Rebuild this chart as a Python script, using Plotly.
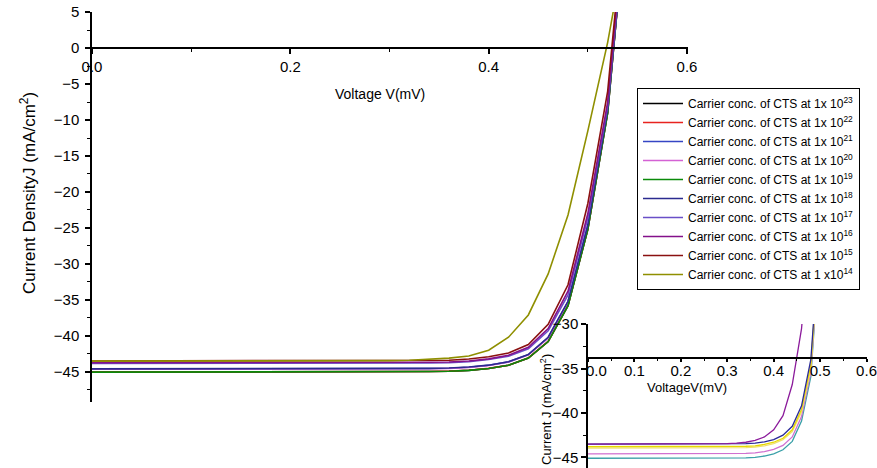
import plotly.graph_objects as go

# Voltage grid (V)
V = [0.00, 0.02, 0.04, 0.06, 0.08, 0.10, 0.12, 0.14, 0.16, 0.18, 0.20, 0.22, 0.24, 0.26,
     0.28, 0.30, 0.32, 0.34, 0.36, 0.38, 0.40, 0.42, 0.44, 0.46, 0.48, 0.50, 0.52, 0.54]

# Main chart: current density J (mA/cm^2) per carrier concentration
J_1e23 = [-45.05, -45.05, -45.05, -45.05, -45.05, -45.05, -45.05, -45.05, -45.05, -45.05, -45.05, -45.05, -45.05, -45.05,
          -45.05, -45.03, -45.0, -44.97, -44.93, -44.8, -44.55, -44.1, -43.1, -40.8, -35.8, -25.2, -9.0, 21.0]
J_1e22 = [-45.03, -45.03, -45.03, -45.03, -45.03, -45.03, -45.03, -45.03, -45.03, -45.03, -45.03, -45.03, -45.03, -45.03,
          -45.03, -45.01, -44.98, -44.95, -44.91, -44.78, -44.53, -44.08, -43.08, -40.78, -35.78, -25.15, -8.9, 21.0]
J_1e21 = [-44.62, -44.62, -44.62, -44.62, -44.62, -44.62, -44.62, -44.62, -44.62, -44.62, -44.62, -44.62, -44.62, -44.62,
          -44.62, -44.6, -44.58, -44.55, -44.5, -44.36, -44.1, -43.62, -42.62, -40.25, -35.25, -24.65, -8.6, 21.0]
J_1e20 = [-44.65, -44.65, -44.65, -44.65, -44.65, -44.65, -44.65, -44.65, -44.65, -44.65, -44.65, -44.65, -44.65, -44.65,
          -44.65, -44.63, -44.61, -44.58, -44.53, -44.39, -44.13, -43.65, -42.65, -40.3, -35.3, -24.7, -8.6, 21.0]
J_1e19 = [-45.05, -45.05, -45.05, -45.05, -45.05, -45.05, -45.05, -45.05, -45.05, -45.05, -45.05, -45.05, -45.05, -45.05,
          -45.05, -45.03, -45.0, -44.97, -44.93, -44.8, -44.55, -44.1, -43.1, -40.8, -35.8, -25.2, -9.0, 21.0]
J_1e18 = [-44.6, -44.6, -44.6, -44.6, -44.6, -44.6, -44.6, -44.6, -44.6, -44.6, -44.6, -44.6, -44.6, -44.6,
          -44.6, -44.58, -44.56, -44.53, -44.48, -44.34, -44.08, -43.6, -42.6, -40.2, -35.2, -24.6, -8.5, 21.0]
J_1e17 = [-43.85, -43.85, -43.85, -43.85, -43.85, -43.85, -43.85, -43.85, -43.85, -43.85, -43.85, -43.85, -43.85, -43.85,
          -43.85, -43.83, -43.81, -43.78, -43.74, -43.6, -43.3, -42.85, -41.8, -39.3, -34.3, -23.6, -8.0, 21.0]
J_1e16 = [-43.75, -43.75, -43.75, -43.75, -43.75, -43.75, -43.75, -43.75, -43.75, -43.75, -43.75, -43.75, -43.75, -43.75,
          -43.75, -43.73, -43.71, -43.68, -43.64, -43.5, -43.2, -42.7, -41.6, -39.0, -33.8, -23.0, -7.5, 22.0]
J_1e15 = [-43.5, -43.5, -43.5, -43.5, -43.5, -43.5, -43.5, -43.5, -43.5, -43.5, -43.5, -43.5, -43.5, -43.5,
          -43.5, -43.5, -43.48, -43.45, -43.4, -43.22, -42.9, -42.4, -41.2, -38.4, -32.9, -21.6, -6.0, 23.0]
J_1e14 = [-43.52, -43.52, -43.52, -43.52, -43.52, -43.52, -43.52, -43.52, -43.52, -43.52, -43.52, -43.52, -43.5, -43.5,
          -43.48, -43.45, -43.4, -43.3, -43.1, -42.8, -42.0, -40.2, -37.1, -31.4, -23.2, -11.5, 0.8, 16.0]

labels = [
    "Carrier conc. of CTS at 1x 10<sup>23</sup>",
    "Carrier conc. of CTS at 1x 10<sup>22</sup>",
    "Carrier conc. of CTS at 1x 10<sup>21</sup>",
    "Carrier conc. of CTS at 1x 10<sup>20</sup>",
    "Carrier conc. of CTS at 1x 10<sup>19</sup>",
    "Carrier conc. of CTS at 1x 10<sup>18</sup>",
    "Carrier conc. of CTS at 1x 10<sup>17</sup>",
    "Carrier conc. of CTS at 1x 10<sup>16</sup>",
    "Carrier conc. of CTS at 1x 10<sup>15</sup>",
    "Carrier conc. of CTS at 1 x10<sup>14</sup>",
]
main_series = [J_1e23, J_1e22, J_1e21, J_1e20, J_1e19, J_1e18, J_1e17, J_1e16, J_1e15, J_1e14]
main_colors = ["#000000", "#e8231f", "#3546c4", "#d462d4", "#0a8a0a",
               "#2b2b8f", "#6a4fc8", "#84108a", "#8a1010", "#8f8f00"]

# Inset chart series
Vi = V
Ji_a = [-43.5, -43.5, -43.5, -43.5, -43.5, -43.5, -43.5, -43.5, -43.5, -43.5, -43.5, -43.5, -43.5, -43.5,
        -43.5, -43.45, -43.4, -43.3, -43.1, -42.7, -41.9, -40.3, -36.8, -30.5, -18.0, 0.0, 5.0, 10.0]
Ji_b = [-43.5, -43.5, -43.5, -43.5, -43.5, -43.5, -43.5, -43.5, -43.5, -43.5, -43.5, -43.5, -43.5, -43.5,
        -43.5, -43.5, -43.48, -43.45, -43.4, -43.25, -43.0, -42.5, -41.5, -39.2, -34.0, -22.0, 0.0, 10.0]
Ji_c = [-43.8, -43.8, -43.8, -43.8, -43.8, -43.8, -43.8, -43.8, -43.8, -43.8, -43.8, -43.8, -43.8, -43.8,
        -43.8, -43.8, -43.78, -43.75, -43.7, -43.55, -43.3, -42.85, -41.9, -39.6, -34.6, -23.0, 0.0, 10.0]
Ji_d = [-43.95, -43.95, -43.95, -43.95, -43.95, -43.95, -43.95, -43.95, -43.95, -43.95, -43.95, -43.95, -43.95, -43.95,
        -43.95, -43.95, -43.93, -43.9, -43.85, -43.7, -43.45, -43.0, -42.1, -39.9, -35.0, -23.5, 0.0, 10.0]
Ji_e = [-44.6, -44.6, -44.6, -44.6, -44.6, -44.6, -44.6, -44.6, -44.6, -44.6, -44.6, -44.6, -44.6, -44.6,
        -44.6, -44.6, -44.58, -44.55, -44.5, -44.35, -44.1, -43.65, -42.7, -40.4, -35.4, -24.0, 0.0, 10.0]
Ji_f = [-45.1, -45.1, -45.1, -45.1, -45.1, -45.1, -45.1, -45.1, -45.1, -45.1, -45.1, -45.1, -45.1, -45.1,
        -45.1, -45.1, -45.08, -45.05, -45.0, -44.85, -44.6, -44.15, -43.2, -40.9, -35.9, -24.5, 0.0, 10.0]
inset_series = [Ji_f, Ji_e, Ji_d, Ji_c, Ji_b, Ji_a]
inset_colors = ["#3aa0a8", "#d070d0", "#f0e070", "#e6d800", "#2a2a99", "#8b1a9b"]

FONT = "Arial, Liberation Sans, sans-serif"
W, H = 877, 468
OFF = 0

fig = go.Figure()
for lab, ys, c in zip(labels, main_series, main_colors):
    fig.add_trace(go.Scatter(x=V, y=ys, mode="lines", name=lab,
                             line=dict(color=c, width=1.6), xaxis="x", yaxis="y"))
for ys, c in zip(inset_series, inset_colors):
    fig.add_trace(go.Scatter(x=Vi, y=ys, mode="lines", showlegend=False,
                             line=dict(color=c, width=1.3), xaxis="x2", yaxis="y2"))

def px_x(p):
    return (p - OFF) / W

def px_y(p):
    return (H - (p - OFF)) / H

axis_common = dict(showline=True, linecolor="black", linewidth=1.5, ticks="outside",
                   tickcolor="black", tickwidth=1.5, showgrid=False, zeroline=False,
                   automargin=False,
                   tickfont=dict(family=FONT, size=15, color="black"))

fig.update_layout(
    template="none",
    width=W, height=H,
    margin=dict(l=0, r=0, t=0, b=0, pad=0),
    paper_bgcolor="white", plot_bgcolor="rgba(0,0,0,0)",
    showlegend=True,
    hovermode=False,
    xaxis=dict(**axis_common, domain=[px_x(92), px_x(688)], range=[0, 0.601],
               anchor="free", position=px_y(48.3), side="bottom",
               tick0=0, dtick=0.2, tickformat=".1f", ticklen=5,
               minor=dict(ticks="outside", dtick=0.1, ticklen=3, tickcolor="black", tickwidth=1.2)),
    yaxis=dict(**axis_common, domain=[px_y(402), px_y(12)], range=[-49.2, 5.02],
               anchor="x", tick0=0, dtick=5, ticklen=5, ticklabelstandoff=3,
               minor=dict(ticks="outside", dtick=2.5, ticklen=3, tickcolor="black", tickwidth=1.2)),
    xaxis2=dict(**axis_common, domain=[px_x(588), px_x(867)], range=[0, 0.601],
                anchor="free", position=px_y(358), side="bottom",
                tickvals=[0, 0.1, 0.2, 0.3, 0.4, 0.5, 0.6],
                ticktext=["\u2007\u20070.0", "0.1", "0.2", "0.3", "0.4", "0.5", "0.6"],
                ticklen=3, ticklabelstandoff=-4,
                minor=dict(ticks="outside", dtick=0.05, ticklen=2, tickcolor="black", tickwidth=1)),
    yaxis2=dict(**axis_common, domain=[0, px_y(324)], range=[-46.2, -29.98],
                anchor="x2", tick0=0, dtick=5, ticklen=5,
                minor=dict(ticks="outside", dtick=2.5, ticklen=3, tickcolor="black", tickwidth=1)),
    legend=dict(x=px_x(637), y=px_y(88), xanchor="left", yanchor="top",
                bordercolor="black", borderwidth=1, bgcolor="white",
                font=dict(family=FONT, size=12, color="black"),
                tracegroupgap=0, itemwidth=40),
    annotations=[
        dict(text="Voltage V(mV)", x=px_x(380), y=px_y(94), xref="paper", yref="paper",
             xanchor="center", yanchor="middle",
             showarrow=False, font=dict(family=FONT, size=14, color="black")),
        dict(text="Current DensityJ (mA/cm<sup>2</sup>)", x=px_x(28), y=px_y(193),
             xref="paper", yref="paper", textangle=-90, showarrow=False,
             xanchor="center", yanchor="middle",
             font=dict(family=FONT, size=17, color="black")),
        dict(text="VoltageV(mV)", x=px_x(687), y=px_y(387), xref="paper", yref="paper",
             xanchor="center", yanchor="middle",
             showarrow=False, font=dict(family=FONT, size=13, color="black")),
        dict(text="Current J (mA/cm<sup>2</sup>)", x=px_x(546), y=px_y(410),
             xref="paper", yref="paper", textangle=-90, showarrow=False,
             xanchor="center", yanchor="middle",
             font=dict(family=FONT, size=13, color="black")),
    ],
)

fig.write_html("out.html", config={"displayModeBar": False},
               post_script="document.body.style.margin='0';document.body.style.padding='0';")
